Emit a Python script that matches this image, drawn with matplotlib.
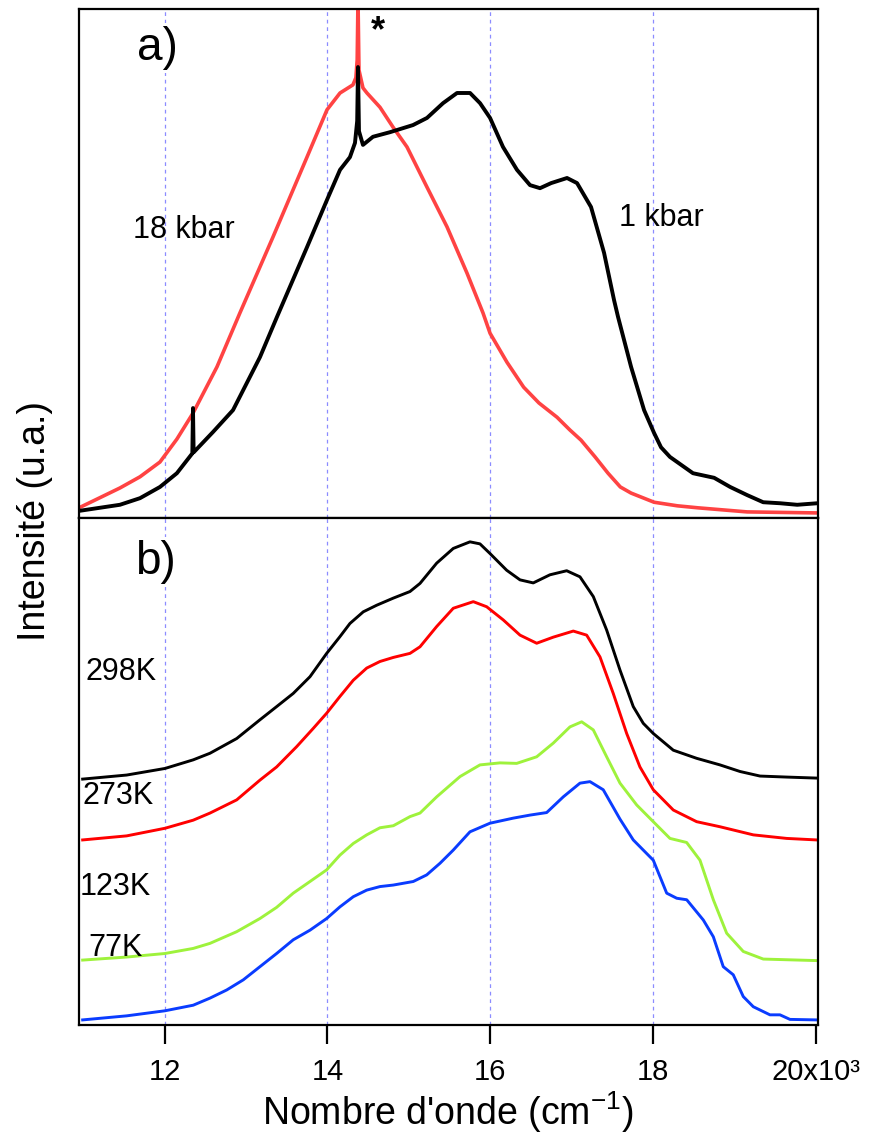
import matplotlib.pyplot as plt

plt.rcParams["font.family"] = ["Liberation Sans", "DejaVu Sans"]
plt.rcParams["mathtext.fontset"] = "custom"
plt.rcParams["mathtext.rm"] = "Liberation Sans"
plt.rcParams["mathtext.it"] = "Liberation Sans:italic"

# (a) emission spectra under pressure, wavenumber in cm-1
wn_1kbar = [10947, 11450, 11697, 11942, 12150, 12340, 12348, 12356, 12594, 12840, 13171,
            13380, 13749, 13995, 14155, 14277, 14339, 14366, 14376, 14388, 14437, 14560,
            14769, 15052, 15224, 15421, 15593, 15753, 15876, 15999, 16158, 16330, 16490,
            16613, 16750, 16945, 17068, 17240, 17400, 17523, 17572, 17732, 17892, 18015,
            18100, 18210, 18493, 18753, 18950, 19159, 19356, 19565, 19774, 20020]
int_1kbar = [1.4, 2.6, 3.9, 6.1, 8.8, 12.7, 21.6, 12.9, 16.9, 21.2, 31.6,
             39.5, 53.2, 62.5, 68.4, 70.9, 73.7, 78.0, 88.6, 76.0, 73.3, 74.9,
             75.8, 77.2, 78.6, 81.5, 83.5, 83.5, 81.5, 78.6, 72.9, 68.4, 65.4,
             64.8, 65.8, 66.8, 65.8, 61.1, 52.1, 42.8, 39.5, 29.7, 21.2, 16.7,
             13.9, 12.0, 8.8, 7.9, 6.1, 4.5, 3.1, 2.9, 2.6, 2.9]

wn_18kbar = [10947, 11450, 11697, 11942, 12150, 12348, 12643, 12925, 13331, 13749, 13995,
             14155, 14314, 14350, 14366, 14376, 14388, 14437, 14486, 14646, 14806, 14978,
             15224, 15470, 15716, 15912, 15999, 16207, 16412, 16600, 16822, 16980, 17117,
             17290, 17449, 17600, 17732, 18015, 18300, 18556, 19159, 20020]
int_18kbar = [2.0, 5.9, 8.1, 11.0, 15.5, 20.6, 29.7, 40.3, 55.2, 70.9, 80.2,
              83.5, 85.1, 86.5, 90.0, 102.0, 88.0, 84.5, 83.5, 80.7, 76.8, 72.9,
              65.0, 57.2, 48.1, 40.3, 36.3, 30.6, 25.7, 22.6, 19.8, 17.3, 15.3,
              12.0, 8.8, 6.1, 4.9, 3.1, 2.4, 2.0, 1.2, 1.0]

# (b) temperature series, offset spectra
wn_298 = [10992, 11533, 12004, 12351, 12557, 12885, 13171, 13376, 13580, 13786, 13991,
          14154, 14277, 14441, 14606, 14810, 15015, 15138, 15343, 15547, 15752, 15875,
          15998, 16203, 16367, 16530, 16735, 16941, 17104, 17268, 17432, 17596, 17759,
          17882, 18005, 18251, 18538, 18825, 19071, 19317, 19644, 20013]
int_298 = [48.5, 49.3, 50.6, 52.3, 53.6, 56.5, 60.2, 62.8, 65.4, 68.7, 73.3,
           76.6, 79.2, 81.5, 82.8, 84.2, 85.5, 87.1, 91.1, 94.0, 95.3, 94.9,
           93.0, 89.7, 87.8, 87.2, 88.8, 89.6, 88.4, 84.5, 77.9, 70.0, 62.8,
           59.5, 57.5, 54.2, 52.6, 51.3, 50.0, 49.1, 48.9, 48.7]

wn_273 = [10992, 11533, 12004, 12351, 12557, 12885, 13171, 13376, 13622, 13826, 13991,
          14154, 14318, 14483, 14646, 14810, 15015, 15138, 15343, 15547, 15793, 15957,
          16161, 16367, 16572, 16776, 17022, 17186, 17350, 17513, 17678, 17841, 18005,
          18251, 18538, 18825, 19234, 19644, 20013]
int_273 = [36.5, 37.3, 38.8, 40.4, 41.8, 44.4, 48.3, 50.9, 54.9, 58.5, 61.5,
           64.8, 68.0, 70.4, 71.7, 72.5, 73.3, 74.6, 78.6, 82.2, 83.5, 82.5,
           79.9, 76.9, 75.3, 76.5, 77.7, 76.9, 72.6, 65.4, 57.5, 50.9, 46.4,
           42.4, 40.1, 39.1, 37.5, 36.8, 36.5]

wn_123 = [10992, 11533, 12004, 12351, 12557, 12885, 13171, 13376, 13580, 13786, 13991,
          14154, 14318, 14483, 14646, 14810, 15015, 15138, 15343, 15630, 15875, 16121,
          16326, 16572, 16776, 16981, 17125, 17268, 17432, 17596, 17801, 18005, 18210,
          18415, 18579, 18743, 18907, 19111, 19357, 20013]
int_123 = [12.8, 13.4, 14.1, 15.1, 16.1, 18.4, 21.0, 23.2, 26.0, 28.3, 30.6,
           33.5, 35.8, 37.5, 38.9, 39.3, 41.1, 41.8, 45.0, 49.0, 51.3, 51.7,
           51.6, 52.9, 55.6, 58.8, 59.8, 58.2, 52.9, 47.7, 43.4, 40.1, 36.8,
           36.0, 32.5, 24.7, 18.1, 14.5, 13.0, 12.7]

wn_77 = [10992, 11533, 12004, 12351, 12557, 12762, 12966, 13171, 13376, 13580, 13786,
         13991, 14154, 14318, 14483, 14646, 14810, 15055, 15220, 15384, 15547, 15752,
         15998, 16284, 16490, 16695, 16899, 17104, 17227, 17390, 17596, 17759, 18005,
         18170, 18293, 18416, 18620, 18743, 18865, 18988, 19111, 19234, 19439, 19562,
         19685, 20013]
int_77 = [1.0, 1.8, 2.8, 3.9, 5.3, 6.9, 8.9, 11.5, 14.1, 16.8, 18.7,
          21.0, 23.3, 25.3, 26.6, 27.3, 27.6, 28.3, 29.6, 31.9, 34.5, 38.1,
          39.8, 40.8, 41.4, 41.9, 45.0, 47.7, 48.0, 46.4, 40.6, 36.5, 32.5,
          26.0, 25.0, 24.7, 20.7, 17.4, 11.5, 9.9, 5.6, 3.6, 2.0, 2.0,
          1.1, 1.0]

tick_values = [12000, 14000, 16000, 18000, 20000]
tick_labels = ["12", "14", "16", "18", "20x10³"]
grid_values = [12000, 14000, 16000, 18000]

fig = plt.figure(figsize=(8.69, 11.4), dpi=100)
ax_a = fig.add_axes([0.0909, 0.5456, 0.850, 0.4465])
ax_b = fig.add_axes([0.0909, 0.1009, 0.850, 0.4447])

for ax in (ax_a, ax_b):
    ax.set_xlim(10947, 20025)
    ax.set_ylim(0, 100)
    ax.set_yticks([])
    for wn in grid_values:
        ax.axvline(wn, color="#8c8cff", lw=0.9, ls=(0, (3, 3)), zorder=0)
    for spine in ax.spines.values():
        spine.set_linewidth(1.6)

ax_a.set_xticks([])
ax_a.plot(wn_18kbar, int_18kbar, color="#ff4343", lw=2.6, solid_joinstyle="round")
ax_a.plot(wn_1kbar, int_1kbar, color="black", lw=2.8, solid_joinstyle="round")

ax_a.text(11662, 92.3, "a)", fontsize=33, va="center", ha="left",
          bbox=dict(facecolor="white", edgecolor="none", pad=2))
ax_a.text(14622, 95.5, "*", fontsize=26, fontweight="bold", va="center", ha="center")
ax_a.text(11611, 56.6, "18 kbar", fontsize=22, va="center", ha="left")
ax_a.text(17584, 58.9, "1 kbar", fontsize=22, va="center", ha="left")

ax_b.plot(wn_298, int_298, color="black", lw=2.1, solid_joinstyle="round")
ax_b.plot(wn_273, int_273, color="#ff0000", lw=2.1, solid_joinstyle="round")
ax_b.plot(wn_123, int_123, color="#9ef23c", lw=2.1, solid_joinstyle="round")
ax_b.plot(wn_77, int_77, color="#0a3cff", lw=2.1, solid_joinstyle="round")

ax_b.text(11636, 91.3, "b)", fontsize=33, va="center", ha="left",
          bbox=dict(facecolor="white", edgecolor="none", pad=2))
ax_b.text(11021, 69.6, "298K", fontsize=22, va="center", ha="left")
ax_b.text(10984, 45.2, "273K", fontsize=22, va="center", ha="left")
ax_b.text(10959, 27.2, "123K", fontsize=22, va="center", ha="left")
ax_b.text(11057, 15.2, "77K", fontsize=22, va="center", ha="left")

ax_b.set_xticks(tick_values)
ax_b.set_xticklabels(tick_labels)
ax_b.tick_params(axis="x", direction="out", length=14, width=1.6, labelsize=21, pad=10)
ax_b.set_xlabel("Nombre d'onde (cm$^{-1}$)", fontsize=27, labelpad=2)

fig.text(0.040, 0.543, "Intensité (u.a.)", rotation=90, fontsize=27,
         va="center", ha="center")

plt.savefig("out.png", dpi=100)
plt.close()
